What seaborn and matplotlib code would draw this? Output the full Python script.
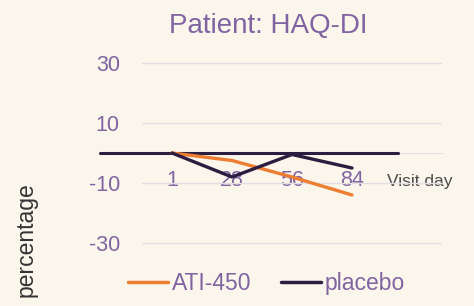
import pandas as pd
import seaborn as sns
import matplotlib.pyplot as plt
from matplotlib.transforms import ScaledTranslation

# visit days and % change from baseline
visit_days = ["1", "28", "56", "84"]
ati_450 = [0, -2.5, -8, -14]
placebo = [0, -8, -0.5, -5]
tick_labels = visit_days + ["Visit day"]
y_ticks = [-30, -10, 10, 30]

bg = "#FAF6EB"
purple = "#8064A2"
orange = "#ED7D31"
dark = "#2B1D3F"
grid_col = "#E4DEE2"

df = pd.DataFrame({
    "day": visit_days * 2,
    "value": ati_450 + placebo,
    "group": ["ATI-450"] * len(visit_days) + ["placebo"] * len(visit_days),
})

sns.set_style("white")
plt.rcParams["font.family"] = ["Liberation Sans", "DejaVu Sans"]
plt.rcParams["axes.unicode_minus"] = False

fig = plt.figure(figsize=(4.74, 3.06), dpi=100, facecolor=bg)
ax = fig.add_axes([142 / 474, 51 / 306, 300 / 474, 204 / 306])
ax.set_facecolor(bg)

sns.lineplot(data=df, x="day", y="value", hue="group", sort=False,
             palette={"ATI-450": orange, "placebo": dark},
             linewidth=2.4, ax=ax, legend=False)

ax.set_xlim(-0.5, 4.5)
ax.set_ylim(-34, 34)

# gridlines
ax.set_yticks(y_ticks)
ax.yaxis.grid(True, color=grid_col, linewidth=1.0)
ax.set_axisbelow(True)

for s in ["top", "right", "left"]:
    ax.spines[s].set_visible(False)
ax.spines["bottom"].set_position(("data", 0))
ax.spines["bottom"].set_color(grid_col)
ax.spines["bottom"].set_zorder(0)

# dark zero line, drawn slightly shifted like in the original
ax.axhline(0, xmin=-0.14, xmax=0.853, color=dark, linewidth=2.2,
           clip_on=False, zorder=1)

ax.set_xticks(range(len(tick_labels)))
ax.set_xticklabels(tick_labels)
ax.tick_params(axis="x", length=0, pad=12.5, labelsize=15.5, labelcolor=purple)
ax.tick_params(axis="y", length=0, pad=16, labelsize=15.5, labelcolor=purple)
last = ax.get_xticklabels()[-1]
last.set_color("#4A4A4A")
last.set_fontsize(12.5)
last.set_transform(last.get_transform() +
                   ScaledTranslation(0.08, -0.035, fig.dpi_scale_trans))

ax.set_xlabel("")
ax.set_ylabel("")

fig.text(0.565, 0.892, "Patient: HAQ-DI", ha="center", va="baseline",
         fontsize=20, color=purple)
fig.text(0.055, 0.216, "percentage", rotation=90, ha="center", va="center",
         fontsize=16.5, color="#333333")

handles = [plt.Line2D([], [], color=orange, linewidth=2.5),
           plt.Line2D([], [], color=dark, linewidth=2.5)]
leg = fig.legend(handles, ["ATI-450", "placebo"], loc="center",
                 bbox_to_anchor=(0.562, 0.072), ncol=2, frameon=False,
                 fontsize=16.5, handlelength=1.75, handletextpad=0.15,
                 columnspacing=1.3)
for t in leg.get_texts():
    t.set_color(purple)

fig.savefig("out.png", dpi=100, facecolor=bg)
